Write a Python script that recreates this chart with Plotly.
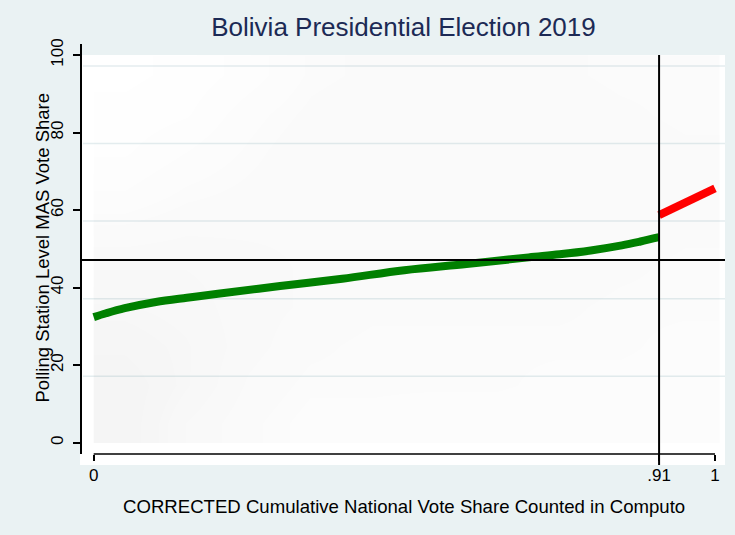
import plotly.graph_objects as go

# Fitted MAS share along the count (Computo, up to the .91 cut-off)
fit_before_x = [0, 0.02, 0.05, 0.1, 0.15, 0.2, 0.3, 0.4, 0.5, 0.6, 0.7, 0.75, 0.8, 0.85, 0.88, 0.91]
fit_before_y = [32.4, 33.4, 34.7, 36.3, 37.4, 38.4, 40.4, 42.3, 44.5, 46.1, 47.8, 48.6, 49.6, 50.9, 51.9, 53.0]

# Fitted MAS share after the .91 cut-off
fit_after_x = [0.91, 0.94, 0.97, 1.0]
fit_after_y = [58.7, 61.0, 63.3, 65.6]

cutoff = 0.91
national_share = 47.1

# Relative density of polling-station points (rows: vote-share bands, cols: count share)
dens_x = [0.05, 0.15, 0.25, 0.35, 0.45, 0.55, 0.65, 0.75, 0.85, 0.955]
dens_y = [5, 15, 25, 35, 45, 55, 65, 75, 85, 95]
dens_z = [
    [0.80, 0.50, 0.35, 0.25, 0.25, 0.20, 0.20, 0.20, 0.20, 0.20],
    [0.80, 0.60, 0.40, 0.30, 0.30, 0.30, 0.30, 0.25, 0.25, 0.25],
    [0.70, 0.60, 0.45, 0.35, 0.30, 0.30, 0.30, 0.30, 0.30, 0.25],
    [0.60, 0.55, 0.45, 0.40, 0.35, 0.35, 0.35, 0.35, 0.30, 0.30],
    [0.50, 0.50, 0.45, 0.40, 0.40, 0.40, 0.40, 0.40, 0.35, 0.30],
    [0.35, 0.40, 0.40, 0.40, 0.40, 0.40, 0.40, 0.40, 0.40, 0.35],
    [0.20, 0.30, 0.35, 0.40, 0.40, 0.40, 0.40, 0.40, 0.40, 0.35],
    [0.10, 0.20, 0.30, 0.40, 0.40, 0.40, 0.40, 0.40, 0.40, 0.35],
    [0.05, 0.10, 0.25, 0.35, 0.40, 0.40, 0.40, 0.40, 0.35, 0.30],
    [0.00, 0.05, 0.15, 0.30, 0.35, 0.35, 0.35, 0.35, 0.30, 0.30],
]

y_ticks = [0, 20, 40, 60, 80, 100]
x_ticks = [0, 0.91, 1]
x_tick_text = ["0", ".91", "1"]
grid_levels = [97.16, 77.16, 57.16, 37.16, 17.16]

BG = "#eaf2f3"
FONT = "Liberation Sans, Arial, sans-serif"

W, H = 735, 535
L, R, T, B = 82, 10, 44, 81
pw, ph = W - L - R, H - T - B


def px_x(p):
    return (p - L) / pw


def px_y(p):
    return (H - B - p) / ph


fig = go.Figure()

fig.add_trace(go.Heatmap(
    x=dens_x, y=dens_y, z=dens_z, zmin=0, zmax=1, zsmooth="best",
    colorscale=[[0, "rgba(110,110,110,0)"], [1, "rgba(110,110,110,0.09)"]],
    showscale=False, hoverinfo="skip",
))
fig.add_trace(go.Scatter(
    x=fit_before_x, y=fit_before_y, mode="lines",
    line=dict(color="#008000", width=8, shape="spline"), hoverinfo="skip",
))
fig.add_trace(go.Scatter(
    x=fit_after_x, y=fit_after_y, mode="lines",
    line=dict(color="#ff0000", width=8), hoverinfo="skip",
))

shapes = [
    # white plot region
    dict(type="rect", xref="paper", yref="paper", x0=px_x(80), x1=px_x(725),
         y0=px_y(465), y1=px_y(55), fillcolor="white", line=dict(width=0), layer="below"),
]
for g in grid_levels:
    shapes.append(dict(type="line", xref="paper", yref="y", x0=px_x(83), x1=px_x(725),
                       y0=g, y1=g, line=dict(color="#e4edef", width=1.5), layer="below"))
shapes += [
    # x axis line over the labelled range
    dict(type="line", xref="x", yref="paper", x0=0, x1=1, y0=0, y1=0,
         line=dict(color="black", width=1.5)),
    # reference lines
    dict(type="line", xref="paper", yref="y", x0=0, x1=1, y0=national_share, y1=national_share,
         line=dict(color="black", width=2), layer="above"),
    dict(type="line", xref="x", yref="paper", x0=cutoff, x1=cutoff, y0=px_y(465), y1=px_y(55),
         line=dict(color="black", width=2), layer="above"),
]

annotations = [
    dict(text="CORRECTED Cumulative National Vote Share Counted in Computo",
         xref="paper", yref="paper", x=px_x(404), y=px_y(506), xanchor="center", yanchor="middle",
         showarrow=False, font=dict(family=FONT, size=18.6, color="black")),
    dict(text="Polling Station Level MAS Vote Share", textangle=-90,
         xref="paper", yref="paper", x=px_x(41.5), y=px_y(248), xanchor="center", yanchor="middle",
         showarrow=False, font=dict(family=FONT, size=18.5, color="black")),
]

fig.update_layout(
    width=W, height=H,
    margin=dict(l=L, r=R, t=T, b=B),
    paper_bgcolor=BG, plot_bgcolor=BG,
    showlegend=False,
    font=dict(family=FONT, color="black"),
    title=dict(text="Bolivia Presidential Election 2019", x=403.5 / W, xanchor="center",
               y=1 - 26.7 / H, yanchor="middle", yref="container",
               font=dict(family=FONT, size=26, color="#1c2a55")),
    xaxis=dict(range=[-0.0188, 1.0161], tickvals=x_ticks, ticktext=x_tick_text,
               ticks="outside", ticklen=6, tickwidth=1.5, tickcolor="black",
               showline=False, showgrid=False, zeroline=False,
               tickfont=dict(family=FONT, size=17, color="black")),
    yaxis=dict(range=[-2.91, 102.84], tickvals=y_ticks, tickangle=-90,
               ticks="outside", ticklen=7, tickwidth=1.5, tickcolor="black",
               showline=True, linecolor="black", linewidth=1.5,
               showgrid=False, zeroline=False, ticklabelstandoff=3,
               tickfont=dict(family=FONT, size=17, color="black")),
    shapes=shapes,
    annotations=annotations,
)

fig.write_html("out.html")
